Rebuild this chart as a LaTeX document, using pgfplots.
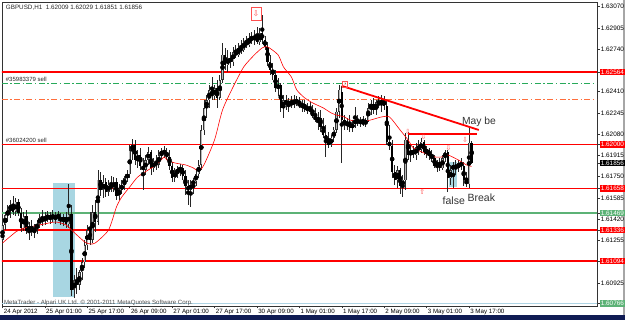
\documentclass[border=0pt]{standalone}
\usepackage{pgfplots}
\usepackage{pgfplotstable}
\pgfplotsset{compat=1.18}
\usepackage{fontspec}
\setmainfont{Liberation Sans}
\newfontfamily\dejavu{DejaVu Sans}
\definecolor{mtred}{RGB}{255,0,0}
\definecolor{mtgreen}{RGB}{92,178,118}
\definecolor{mtsea}{RGB}{40,170,90}
\definecolor{mttomato}{RGB}{255,110,60}
\definecolor{mtblue}{RGB}{168,214,226}
\definecolor{mtline}{RGB}{175,212,228}
\definecolor{mtnavy}{RGB}{16,28,84}
\definecolor{arrowred}{RGB}{255,80,80}
\definecolor{upfill}{RGB}{185,185,185}
\newcommand{\lab}[3]{{\setlength{\fboxsep}{0.9pt}\colorbox{#1}{\textcolor{#2}{#3}}}}
\newcommand{\pl}[1]{\hspace{0.9pt}#1}
\pgfplotstableread{
i o h l c
0 1.61260 1.61399 1.61182 1.61376
1 1.61376 1.61477 1.61337 1.61453
2 1.61453 1.61531 1.61399 1.61492
3 1.61492 1.61570 1.61430 1.61531
4 1.61531 1.61601 1.61453 1.61477
5 1.61477 1.61586 1.61446 1.61555
6 1.61555 1.61578 1.61446 1.61469
7 1.61469 1.61508 1.61322 1.61353
8 1.61353 1.61477 1.61329 1.61446
9 1.61446 1.61492 1.61306 1.61329
10 1.61329 1.61399 1.61260 1.61368
11 1.61368 1.61415 1.61291 1.61322
12 1.61322 1.61384 1.61275 1.61353
13 1.61353 1.61415 1.61306 1.61384
14 1.61384 1.61461 1.61353 1.61430
15 1.61430 1.61492 1.61368 1.61399
16 1.61399 1.61477 1.61376 1.61446
17 1.61446 1.61485 1.61399 1.61422
18 1.61422 1.61477 1.61384 1.61453
19 1.61453 1.61492 1.61399 1.61422
20 1.61422 1.61477 1.61384 1.61453
21 1.61453 1.61485 1.61407 1.61430
22 1.61430 1.61469 1.61376 1.61407
23 1.61407 1.61461 1.61368 1.61438
24 1.61438 1.61477 1.61353 1.61384
25 1.61384 1.61694 1.61353 1.61461
26 1.61461 1.61531 1.60825 1.60872
27 1.60872 1.60988 1.60810 1.60949
28 1.60949 1.61042 1.60841 1.60911
29 1.60911 1.61027 1.60872 1.61011
30 1.61011 1.61120 1.60949 1.61089
31 1.61089 1.61260 1.61042 1.61221
32 1.61221 1.61376 1.61182 1.61337
33 1.61337 1.61477 1.61221 1.61260
34 1.61260 1.61531 1.61236 1.61477
35 1.61477 1.61570 1.61322 1.61399
36 1.61399 1.61803 1.61376 1.61725
37 1.61725 1.61787 1.61601 1.61648
38 1.61648 1.61764 1.61586 1.61710
39 1.61710 1.61740 1.61593 1.61632
40 1.61632 1.61725 1.61601 1.61687
41 1.61687 1.61756 1.61632 1.61663
42 1.61663 1.61749 1.61632 1.61710
43 1.61710 1.61740 1.61570 1.61601
44 1.61601 1.61694 1.61570 1.61648
45 1.61648 1.61725 1.61617 1.61687
46 1.61687 1.61756 1.61648 1.61740
47 1.61740 1.61803 1.61710 1.61772
48 1.61772 1.61997 1.61740 1.61958
49 1.61958 1.62043 1.61880 1.61997
50 1.61997 1.62036 1.61842 1.61880
51 1.61880 1.61958 1.61818 1.61919
52 1.61919 1.61974 1.61803 1.61834
53 1.61834 1.61896 1.61648 1.61803
54 1.61803 1.61919 1.61764 1.61880
55 1.61880 1.61982 1.61842 1.61942
56 1.61942 1.61958 1.61764 1.61818
57 1.61818 1.61896 1.61787 1.61865
58 1.61865 1.61919 1.61803 1.61842
59 1.61842 1.61958 1.61818 1.61919
60 1.61919 1.61974 1.61880 1.61950
61 1.61950 1.61989 1.61896 1.61935
62 1.61935 1.61974 1.61880 1.61904
63 1.61904 1.61958 1.61803 1.61834
64 1.61834 1.61865 1.61710 1.61740
65 1.61740 1.61818 1.61710 1.61787
66 1.61787 1.61834 1.61740 1.61803
67 1.61803 1.61849 1.61756 1.61818
68 1.61818 1.61842 1.61725 1.61756
69 1.61756 1.61803 1.61609 1.61679
70 1.61679 1.61725 1.61531 1.61648
71 1.61648 1.61725 1.61516 1.61694
72 1.61694 1.61740 1.61617 1.61717
73 1.61717 1.61803 1.61679 1.61772
74 1.61772 1.61880 1.61740 1.61842
75 1.61842 1.62152 1.61803 1.62113
76 1.62113 1.62346 1.62074 1.62284
77 1.62284 1.62385 1.62206 1.62346
78 1.62346 1.62462 1.62284 1.62424
79 1.62424 1.62524 1.62346 1.62377
80 1.62377 1.62462 1.62346 1.62439
81 1.62439 1.62501 1.62284 1.62362
82 1.62362 1.62540 1.62346 1.62501
83 1.62501 1.62789 1.62478 1.62695
84 1.62695 1.62750 1.62579 1.62617
85 1.62617 1.62734 1.62563 1.62672
86 1.62672 1.62718 1.62594 1.62640
87 1.62640 1.62758 1.62610 1.62718
88 1.62718 1.62773 1.62672 1.62695
89 1.62695 1.62789 1.62680 1.62750
90 1.62750 1.62812 1.62703 1.62734
91 1.62734 1.62827 1.62718 1.62796
92 1.62796 1.62842 1.62750 1.62773
93 1.62773 1.62866 1.62758 1.62827
94 1.62827 1.62873 1.62781 1.62812
95 1.62812 1.62889 1.62773 1.62842
96 1.62842 1.62913 1.62781 1.62796
97 1.62796 1.62905 1.62773 1.62866
98 1.62866 1.63005 1.62781 1.62812
99 1.62812 1.62842 1.62734 1.62758
100 1.62758 1.62796 1.62610 1.62640
101 1.62640 1.62695 1.62540 1.62579
102 1.62579 1.62633 1.62501 1.62540
103 1.62540 1.62579 1.62408 1.62439
104 1.62439 1.62517 1.62377 1.62462
105 1.62462 1.62478 1.62253 1.62284
106 1.62284 1.62385 1.62206 1.62346
107 1.62346 1.62385 1.62268 1.62315
108 1.62315 1.62362 1.62253 1.62330
109 1.62330 1.62377 1.62284 1.62307
110 1.62307 1.62385 1.62284 1.62346
111 1.62346 1.62377 1.62299 1.62323
112 1.62323 1.62369 1.62284 1.62299
113 1.62299 1.62346 1.62253 1.62315
114 1.62315 1.62346 1.62253 1.62268
115 1.62268 1.62323 1.62237 1.62292
116 1.62292 1.62330 1.62237 1.62253
117 1.62253 1.62307 1.62206 1.62222
118 1.62222 1.62284 1.62175 1.62191
119 1.62191 1.62253 1.62113 1.62206
120 1.62206 1.62268 1.62098 1.62136
121 1.62136 1.62206 1.62051 1.62074
122 1.62074 1.62152 1.61904 1.62036
123 1.62036 1.62098 1.61974 1.61997
124 1.61997 1.62074 1.61982 1.62051
125 1.62051 1.62136 1.62020 1.62113
126 1.62113 1.62284 1.62090 1.62253
127 1.62253 1.62462 1.62206 1.62424
128 1.62408 1.62455 1.61857 1.62191
129 1.62191 1.62229 1.62113 1.62152
130 1.62152 1.62206 1.62113 1.62175
131 1.62175 1.62229 1.62098 1.62129
132 1.62129 1.62191 1.62098 1.62160
133 1.62160 1.62292 1.62129 1.62191
134 1.62191 1.62229 1.62144 1.62167
135 1.62167 1.62214 1.62136 1.62183
136 1.62183 1.62222 1.62144 1.62160
137 1.62160 1.62206 1.62136 1.62191
138 1.62191 1.62323 1.62175 1.62284
139 1.62284 1.62346 1.62229 1.62315
140 1.62315 1.62362 1.62237 1.62268
141 1.62268 1.62346 1.62229 1.62330
142 1.62330 1.62377 1.62284 1.62307
143 1.62307 1.62385 1.62253 1.62346
144 1.62346 1.62377 1.62268 1.62299
145 1.62299 1.62346 1.61997 1.62020
146 1.62020 1.62152 1.61958 1.61989
147 1.61989 1.62036 1.61740 1.61787
148 1.61787 1.61842 1.61687 1.61725
149 1.61725 1.61834 1.61663 1.61803
150 1.61803 1.61818 1.61617 1.61679
151 1.61679 1.61764 1.61593 1.61725
152 1.61725 1.62090 1.61648 1.62036
153 1.62036 1.62098 1.61880 1.61919
154 1.61919 1.61997 1.61865 1.61958
155 1.61958 1.61989 1.61896 1.61919
156 1.61919 1.62013 1.61880 1.61982
157 1.61982 1.62036 1.61919 1.61958
158 1.61958 1.62051 1.61935 1.62020
159 1.62020 1.62036 1.61919 1.61942
160 1.61942 1.61989 1.61896 1.61958
161 1.61958 1.61974 1.61880 1.61911
162 1.61911 1.61958 1.61865 1.61896
163 1.61896 1.61919 1.61818 1.61834
164 1.61834 1.61880 1.61787 1.61865
165 1.61865 1.61896 1.61795 1.61818
166 1.61818 1.61919 1.61803 1.61896
167 1.61896 1.61958 1.61865 1.61942
168 1.61942 1.61958 1.61632 1.61740
169 1.61740 1.61842 1.61687 1.61803
170 1.61803 1.61865 1.61663 1.61842
171 1.61842 1.61880 1.61764 1.61818
172 1.61818 1.61880 1.61787 1.61857
173 1.61857 1.61896 1.61803 1.61834
174 1.61834 1.61865 1.61679 1.61725
175 1.61725 1.61787 1.61671 1.61694
176 1.61694 1.62136 1.61663 1.62013
177 1.62009 1.62029 1.61851 1.61856
}\candles
\begin{document}
\begin{tikzpicture}
\path[use as bounding box] (0,0) rectangle (625pt,320pt);
\fill[mtnavy] (0,0) rectangle (625pt,5pt);
\fill[black!35] (622.5pt,5pt) rectangle (625pt,320pt);
\begin{axis}[
  at={(2pt,14pt)}, anchor=south west,
  scale only axis, width=595pt, height=304pt,
  xmin=-0.2, xmax=224.3, ymin=1.60747, ymax=1.63106,
  axis line style={black!80, line width=0.8pt},
  tick align=outside, major tick length=2.5pt,
  tick style={black!80, line width=0.5pt},
  xtick pos=left, ytick pos=right, yticklabel pos=right,
  xtick={0,16,32,48,64,80,96,112,128,144,160,176},
  xticklabels={24 Apr 2012, 25 Apr 01:00, 25 Apr 17:00, 26 Apr 09:00, 27 Apr 01:00, 27 Apr 17:00, 30 Apr 09:00, 1 May 01:00, 1 May 17:00, 2 May 09:00, 3 May 01:00, 3 May 17:00},
  xticklabel style={anchor=north west, xshift=0.3pt, inner sep=0.8pt, font=\fontsize{6.2}{7}\selectfont},
  ytick={1.60766,1.60925,1.61094,1.61255,1.61336,1.61420,1.61469,1.61585,1.61658,1.61750,1.61856,1.61915,1.62000,1.62080,1.62245,1.62410,1.62564,1.62740,1.62905,1.63070},
  yticklabels={\lab{mtgreen}{white}{1.60766}, \pl{1.60925}, \lab{mtred}{white}{1.61094}, \pl{1.61255}, \lab{mtred}{white}{1.61336}, \pl{1.61420}, \lab{mtgreen}{white}{1.61469}, \pl{1.61585}, \lab{mtred}{white}{1.61658}, \pl{1.61750}, \lab{black}{white}{1.61856}, \pl{1.61915}, \lab{mtred}{white}{1.62000}, \pl{1.62080}, \pl{1.62245}, \pl{1.62410}, \lab{mtred}{white}{1.62564}, \pl{1.62740}, \pl{1.62905}, \pl{1.63070}},
  yticklabel style={anchor=west, inner sep=0.2pt, font=\fontsize{6.4}{7}\selectfont},
  clip=true,
]
% highlight boxes
\addplot[forget plot, fill=mtblue, draw=none] coordinates {(19.2,1.60819) (27.2,1.60819) (27.2,1.61704) (19.2,1.61704)} -- cycle;
\addplot[forget plot, fill=mtblue, draw=none] coordinates {(168.5,1.61668) (171.6,1.61668) (171.6,1.61867) (168.5,1.61867)} -- cycle;
% horizontal levels
\addplot[forget plot, draw=mtred, line width=1.7pt] coordinates {(-5,1.62564) (230,1.62564)};
\addplot[forget plot, draw=mtred, line width=1.7pt] coordinates {(-5,1.62000) (230,1.62000)};
\addplot[forget plot, draw=mtred, line width=1.7pt] coordinates {(-5,1.61658) (230,1.61658)};
\addplot[forget plot, draw=mtred, line width=1.7pt] coordinates {(-5,1.61336) (230,1.61336)};
\addplot[forget plot, draw=mtred, line width=1.7pt] coordinates {(-5,1.61094) (230,1.61094)};
\addplot[forget plot, draw=mtgreen, line width=1.6pt] coordinates {(-5,1.61469) (230,1.61469)};
\addplot[forget plot, draw=mtline, line width=1.4pt] coordinates {(-5,1.60766) (230,1.60766)};
\addplot[forget plot, draw=mtsea, line width=1.1pt, dash pattern=on 6pt off 2.5pt on 1.4pt off 2.5pt] coordinates {(-5,1.62474) (230,1.62474)};
\addplot[forget plot, draw=mttomato, line width=1.1pt, dash pattern=on 6pt off 2.5pt on 1.4pt off 2.5pt] coordinates {(-5,1.62346) (230,1.62346)};
% wicks
\addplot[forget plot, only marks, mark=none,
  error bars/.cd, y dir=both, y explicit, error mark=none,
  error bar style={draw=black!85, line width=0.8pt}]
  table[x=i, y expr={(\thisrow{h}+\thisrow{l})/2}, y error expr={(\thisrow{h}-\thisrow{l})/2}] {\candles};
% bearish bodies
\addplot[forget plot, only marks, mark=none, restrict y to domain=1.5:1.7,
  error bars/.cd, y dir=both, y explicit, error mark=none,
  error bar style={draw=black, line width=2.3pt}]
  table[x=i, y expr={\thisrow{c}<\thisrow{o} ? (\thisrow{o}+\thisrow{c})/2 : 3}, y error expr={abs(\thisrow{o}-\thisrow{c})/2}] {\candles};
% bullish bodies (outline + fill)
\addplot[forget plot, only marks, mark=none, restrict y to domain=1.5:1.7,
  error bars/.cd, y dir=both, y explicit, error mark=none,
  error bar style={draw=black!80, line width=2.3pt}]
  table[x=i, y expr={\thisrow{c}>\thisrow{o} ? (\thisrow{o}+\thisrow{c})/2 : 3}, y error expr={abs(\thisrow{o}-\thisrow{c})/2}] {\candles};
\addplot[forget plot, only marks, mark=none, restrict y to domain=1.5:1.7,
  error bars/.cd, y dir=both, y explicit, error mark=none,
  error bar style={draw=upfill, line width=0.9pt}]
  table[x=i, y expr={\thisrow{c}>\thisrow{o} ? (\thisrow{o}+\thisrow{c})/2 : 3}, y error expr={max(abs(\thisrow{o}-\thisrow{c})/2-0.00004,0)}] {\candles};
% moving average
\addplot[forget plot, draw=mtred, line width=0.6pt, smooth, tension=0.4] coordinates {
(0,1.61236) (5,1.61322) (7,1.61345) (14,1.61376) (20,1.61399) (24,1.61376) (26,1.61337) (31,1.61244) (33,1.61229) (35,1.61236) (40,1.61337) (43,1.61516) (45,1.61593) (48,1.61671) (51,1.61748) (55,1.61803) (58,1.61842) (61,1.61904) (62,1.61880) (65,1.61857) (69,1.61842) (72,1.61818) (74,1.61795) (76,1.61842) (80,1.62036) (83,1.62268) (87,1.62447) (91,1.62602) (95,1.62695) (98,1.62750) (100,1.62758) (104,1.62695) (106,1.62602) (109,1.62524) (111,1.62424) (114,1.62362) (117,1.62323) (121,1.62284) (124,1.62245) (126,1.62229) (129,1.62214) (131,1.62191) (135,1.62175) (139,1.62191) (143,1.62214) (146,1.62214) (150,1.62113) (153,1.62036) (155,1.61974) (159,1.61935) (163,1.61904) (166,1.61904) (168,1.61919) (172,1.61880) (175,1.61842) (177,1.61830)};
% trend lines
\addplot[forget plot, draw=mtred, line width=1.8pt] coordinates {(128,1.62455) (179.7,1.62113)};
\addplot[forget plot, draw=mtred, line width=1.3pt] coordinates {(152.9,1.62082) (178.9,1.62082)};
% markers
\node[draw=arrowred, line width=0.8pt, minimum width=10pt, minimum height=13pt, inner sep=0pt, text=arrowred, font=\dejavu\fontsize{8}{8}\selectfont] at (axis cs:95.6,1.63017) {⇩};
\node[draw=arrowred, line width=0.6pt, minimum width=5pt, minimum height=6pt, inner sep=0pt, text=arrowred, font=\dejavu\fontsize{4}{4}\selectfont] at (axis cs:129.3,1.62470) {⇩};
\node[inner sep=0pt, text=arrowred, font=\dejavu\fontsize{7}{7}\selectfont] at (axis cs:152.9,1.62098) {⇩};
\node[inner sep=0pt, text=arrowred, font=\dejavu\fontsize{7}{7}\selectfont] at (axis cs:158.9,1.62055) {⇩};
\node[inner sep=0pt, text=arrowred, font=\dejavu\fontsize{7}{7}\selectfont] at (axis cs:168.3,1.61970) {⇩};
\node[inner sep=0pt, text=arrowred, font=\dejavu\fontsize{7}{7}\selectfont] at (axis cs:174.5,1.62036) {⇩};
\node[inner sep=0pt, text=arrowred, font=\dejavu\fontsize{7}{7}\selectfont] at (axis cs:158.4,1.61635) {⇧};
% texts
\node[anchor=base west, inner sep=0pt, font=\fontsize{6.3}{7}\selectfont, text=black!85] at (axis cs:1.2,1.63050) {GBPUSD,H1\ \ 1.62009 1.62029 1.61851 1.61856};
\node[anchor=base west, inner sep=0pt, font=\fontsize{6}{7}\selectfont, text=black!85] at (axis cs:1.2,1.62490) {\#35983379 sell};
\node[anchor=base west, inner sep=0pt, font=\fontsize{6}{7}\selectfont, text=black!85] at (axis cs:1.2,1.62016) {\#36024200 sell};
\node[anchor=base west, inner sep=0pt, font=\fontsize{6.1}{7}\selectfont, text=black!70] at (axis cs:0.5,1.60760) {MetaTrader - Alpari UK Ltd. © 2001-2011 MetaQuotes Software Corp.};
\node[anchor=base west, inner sep=0pt, font=\fontsize{10.3}{12}\selectfont, text=black!80] at (axis cs:173.3,1.62157) {May be};
\node[anchor=base west, inner sep=0pt, font=\fontsize{10.5}{12}\selectfont, text=black!80] at (axis cs:166,1.61531) {false};
\node[anchor=base west, inner sep=0pt, font=\fontsize{10.5}{12}\selectfont, text=black!80] at (axis cs:175.4,1.61557) {Break};
\end{axis}
\end{tikzpicture}
\end{document}
